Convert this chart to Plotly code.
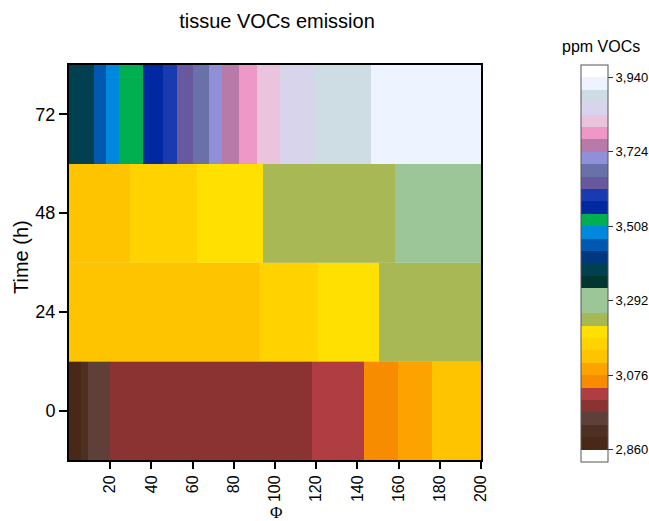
import plotly.graph_objects as go

# ---- data ----
times = [0, 24, 48, 72]
row_height = 24

edges_t0 = [0, 6, 9, 20, 118, 143, 159.5, 176, 200]
vals_t0 = [2880, 2915, 2950, 2985, 3020, 3060, 3095, 3130]

edges_t24 = [0, 29.6, 92, 121, 150.5, 200]
vals_t24 = [3125, 3140, 3165, 3200, 3240]

edges_t48 = [0, 29.6, 62, 94, 158.3, 200]
vals_t48 = [3130, 3165, 3200, 3240, 3290]

edges_t72 = [0, 12, 18, 24.5, 36, 45.5, 52.3, 60, 68.2, 74.2, 82.6, 91.5, 102.5, 118.7, 146.5, 200]
vals_t72 = [3382, 3454, 3490, 3526, 3562, 3598, 3634, 3670, 3706, 3742, 3778, 3814, 3850, 3886, 3922]

x_ticks = [20, 40, 60, 80, 100, 120, 140, 160, 180, 200]
cbar_ticks = [2860, 3076, 3292, 3508, 3724, 3940]
cbar_ticklabels = ["2,860", "3,076", "3,292", "3,508", "3,724", "3,940"]

# colour bands (36 ppm each) from below 2860 to above 3940
band_colors = [
    "#ffffff",
    "#4a2818", "#4d3022", "#5e4039", "#8b3333", "#b03d42", "#f78c00",
    "#fca300", "#ffc400", "#ffd200", "#ffe000", "#a8b855", "#9cc698",
    "#9cc698", "#003530", "#004050", "#003880", "#0058b0", "#0088dd",
    "#00b050", "#0028a0", "#1a3ab0", "#6858a0", "#6a70a8", "#9090d8",
    "#b87aa8", "#ee98c8", "#eac4dc", "#d8d4ec", "#cddde3", "#eef4ff",
    "#ffffff",
]
cmin, cmax = 2824, 3976

n = len(band_colors)
colorscale = []
for i, c in enumerate(band_colors):
    colorscale.append([i / n, c])
    colorscale.append([(i + 1) / n, c])

rows = [(times[0], edges_t0, vals_t0), (times[1], edges_t24, vals_t24),
        (times[2], edges_t48, vals_t48), (times[3], edges_t72, vals_t72)]

fig = go.Figure()
for t, edges, vals in rows:
    fig.add_trace(go.Heatmap(
        x=edges, y=[t - row_height / 2, t + row_height / 2], z=[vals],
        coloraxis="coloraxis",
    ))

W, H = 649, 521
L, R, T, B = 69, 481, 65, 460
PW, PH = R - L, B - T

fig.update_layout(
    width=W, height=H,
    margin=dict(l=L, r=W - R, t=T, b=H - B, autoexpand=False),
    paper_bgcolor="white", plot_bgcolor="white",
    font=dict(family="Liberation Sans, Arial, sans-serif", color="black"),
    title=dict(text="tissue VOCs emission", x=277 / W, xanchor="center",
               y=1 - 21 / H, yanchor="middle", font=dict(size=20)),
    coloraxis=dict(
        colorscale=colorscale, cmin=cmin, cmax=cmax,
        colorbar=dict(
            x=(581 - L) / PW, xanchor="left",
            y=1.0, yanchor="top",
            lenmode="fraction", len=397 / PH,
            thickness=27, thicknessmode="pixels",
            xpad=0, ypad=0,
            outlinewidth=1, outlinecolor="#555555",
            ticks="outside", ticklen=5, tickwidth=1, tickcolor="#333333",
            tickvals=cbar_ticks, ticktext=cbar_ticklabels,
            tickfont=dict(size=13),
        ),
    ),
    xaxis=dict(
        range=[0, 200], tickvals=x_ticks, tickangle=-90,
        ticks="outside", ticklen=7, tickwidth=1.5, tickcolor="black",
        tickfont=dict(size=16),
        showline=True, mirror=True, linecolor="black", linewidth=2,
        showgrid=False, zeroline=False,
    ),
    yaxis=dict(
        range=[-12, 84], tickvals=times,
        ticks="outside", ticklen=8, tickwidth=1.5, tickcolor="black",
        tickfont=dict(size=18),
        showline=True, mirror=True, linecolor="black", linewidth=2,
        showgrid=False, zeroline=False,
    ),
    annotations=[
        dict(text="ppm VOCs", xref="paper", yref="paper",
             x=(601 - L) / PW, y=(B - 47) / PH,
             xanchor="center", yanchor="middle", showarrow=False,
             font=dict(size=16)),
        dict(text="Φ", xref="paper", yref="paper",
             x=(276 - L) / PW, y=(B - 512) / PH,
             xanchor="center", yanchor="middle", showarrow=False,
             font=dict(size=17, family="Liberation Serif, serif")),
        dict(text="Time (h)", xref="paper", yref="paper",
             x=(21 - L) / PW, y=(B - 257) / PH, textangle=-90,
             xanchor="center", yanchor="middle", showarrow=False,
             font=dict(size=20)),
    ],
)

fig.write_html("out.html", config={"displayModeBar": False},
               post_script="document.body.style.margin='0';")
